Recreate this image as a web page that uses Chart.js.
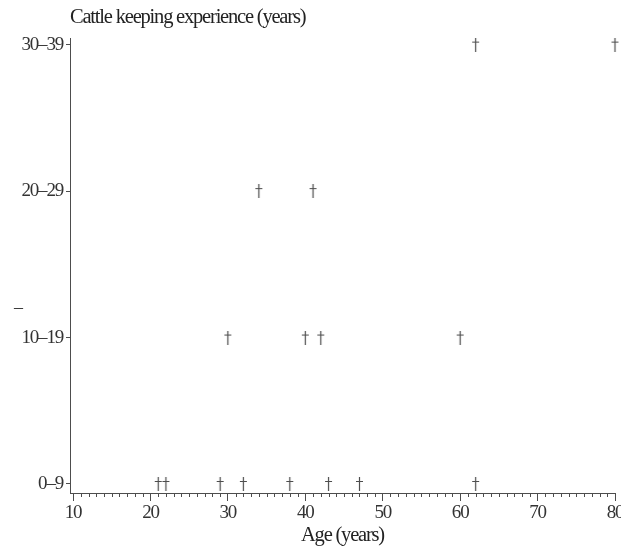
<!DOCTYPE html>
<html>
<head>
<meta charset="utf-8">
<script src="https://cdn.jsdelivr.net/npm/chart.js@4/dist/chart.umd.min.js"></script>
<style>
    body { margin: 0; background: #fff; }
    #wrap { width: 621px; height: 550px; }
</style>
</head>
<body>
<div id="wrap"><canvas id="scatterChart"></canvas></div>
<script>
const expCategories = ['0–9', '10–19', '20–29', '30–39'];
const xTickValues = [10, 20, 30, 40, 50, 60, 70, 80];
// one entry per farmer: age and experience group (index into expCategories)
const ages     = [21, 22, 29, 32, 38, 43, 47, 62, 30, 40, 42, 60, 34, 41, 62, 80];
const expGroup = [ 0,  0,  0,  0,  0,  0,  0,  0,  1,  1,  1,  1,  2,  2,  3,  3];

const inkColor = '#4d4d4d';
const serif = 'Liberation Serif';

// dagger-like marker used in the original plot
function makeMarker() {
    const c = document.createElement('canvas');
    c.width = 9;
    c.height = 14;
    const g = c.getContext('2d');
    g.strokeStyle = inkColor;
    g.lineWidth = 1.2;
    g.beginPath();
    g.moveTo(4.5, 0);
    g.lineTo(4.5, 14);
    g.moveTo(1, 4.5);
    g.lineTo(8, 4.5);
    g.stroke();
    return c;
}

const tightText = {
    id: 'tightText',
    beforeUpdate(chart) { chart.ctx.letterSpacing = '-1.2px'; },
    beforeDraw(chart) { chart.ctx.letterSpacing = '-1.2px'; }
};

const minorTicks = {
    id: 'minorTicks',
    afterDraw(chart) {
        const ctx = chart.ctx;
        const xs = chart.scales.x;
        const bottom = chart.chartArea.bottom;
        ctx.save();
        ctx.strokeStyle = inkColor;
        ctx.lineWidth = 1;
        ctx.beginPath();
        for (let v = xTickValues[0]; v <= xTickValues[xTickValues.length - 1]; v++) {
            if (v % 10 === 0) continue;
            const px = Math.round(xs.getPixelForValue(v)) + 0.5;
            ctx.moveTo(px, bottom);
            ctx.lineTo(px, bottom + 4);
        }
        ctx.stroke();
        // stray dash on the left of the original
        ctx.fillStyle = '#333';
        ctx.font = '18px ' + serif;
        ctx.textAlign = 'center';
        ctx.textBaseline = 'middle';
        ctx.fillText('–', 18, chart.scales.y.getPixelForValue(1.2));
        ctx.restore();
    }
};

const points = ages.map((a, i) => ({ x: a, y: expGroup[i] }));

const ctx = document.getElementById('scatterChart').getContext('2d');
new Chart(ctx, {
    type: 'scatter',
    data: {
        datasets: [{
            data: points,
            pointStyle: makeMarker(),
            pointRadius: 5,
            clip: false
        }]
    },
    options: {
        responsive: true,
        maintainAspectRatio: false,
        animation: false,
        layout: { padding: { left: 0, right: 5, top: 0, bottom: 0 } },
        plugins: {
            legend: { display: false },
            tooltip: { enabled: false },
            title: {
                display: true,
                text: 'Cattle keeping experience (years)',
                align: 'start',
                fullSize: false,
                color: '#222',
                font: { family: serif, size: 20.5, weight: 'normal' },
                padding: { top: 5, bottom: 9 }
            }
        },
        scales: {
            x: {
                type: 'linear',
                min: 9.61,
                max: 80,
                afterBuildTicks(scale) {
                    scale.ticks = xTickValues.map(v => ({ value: v }));
                },
                afterFit(scale) {
                    scale.height = 57;
                    scale.paddingLeft = 0;
                    scale.paddingRight = 0;
                },
                ticks: {
                    color: '#333',
                    font: { family: serif, size: 19 },
                    padding: 1,
                    maxRotation: 0,
                    autoSkip: false
                },
                grid: { drawOnChartArea: false, tickLength: 8, tickColor: inkColor },
                border: { color: inkColor, width: 1 },
                title: {
                    display: true,
                    text: 'Age (years)',
                    color: '#222',
                    font: { family: serif, size: 20.5 },
                    padding: { top: 0, bottom: 2 }
                }
            },
            y: {
                type: 'linear',
                min: -0.0615,
                max: 3.041,
                afterBuildTicks(scale) {
                    scale.ticks = expCategories.map((_, i) => ({ value: i }));
                },
                afterFit(scale) {
                    scale.width = 70;
                    scale.paddingTop = 0;
                    scale.paddingBottom = 0;
                },
                ticks: {
                    color: '#333',
                    font: { family: serif, size: 19 },
                    padding: 3,
                    callback: v => expCategories[v]
                },
                grid: { drawOnChartArea: false, tickLength: 4, tickColor: inkColor },
                border: { color: inkColor, width: 1 }
            }
        }
    },
    plugins: [tightText, minorTicks]
});
</script>
</body>
</html>
